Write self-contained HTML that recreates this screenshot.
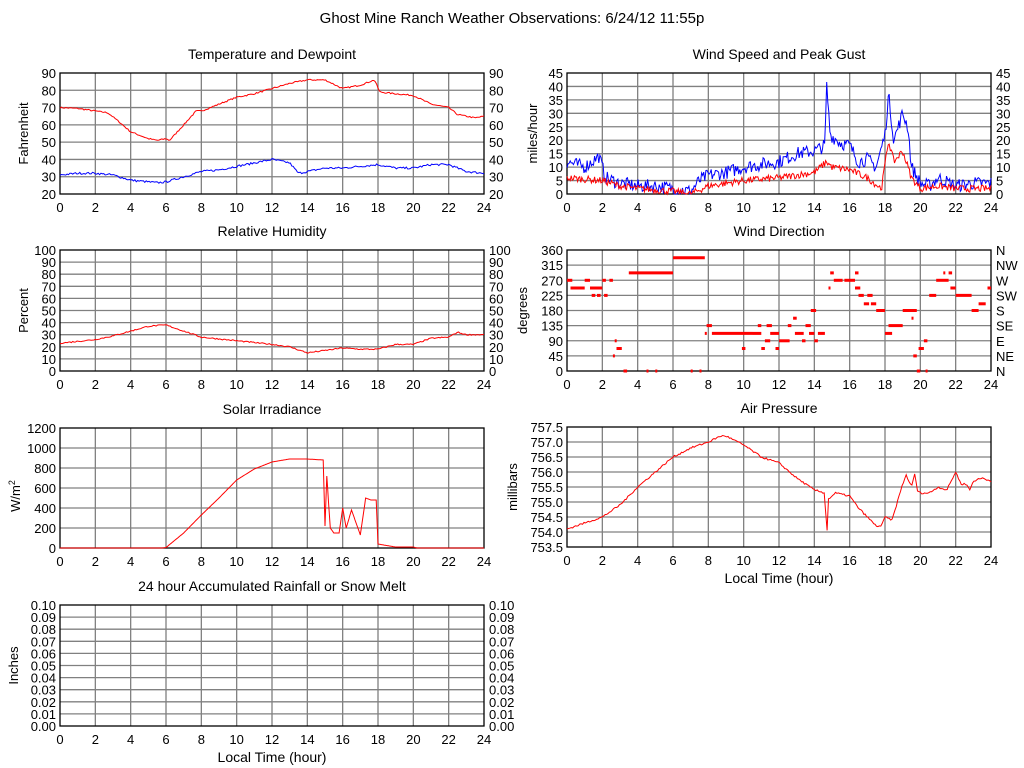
<!DOCTYPE html>
<html><head><meta charset="utf-8"><style>
html,body{margin:0;padding:0;background:#fff;}
svg{display:block;font-family:"Liberation Sans",Arial,sans-serif;}
</style></head><body>
<svg id="s" width="1024" height="768" xmlns="http://www.w3.org/2000/svg">
<text x="512" y="23" font-size="15" text-anchor="middle">Ghost Mine Ranch Weather Observations: 6/24/12 11:55p</text>
</svg>
<script>
var S=document.getElementById('s'),out='';
var seed=7;function rnd(){seed=(seed*16807)%2147483647;return seed/2147483647;}
function T(x,y,t,a,fs,extra){out+='<text x="'+x+'" y="'+y+'" font-size="'+(fs||13)+'" text-anchor="'+(a||'middle')+'" '+(extra||'')+'>'+t+'</text>';}
function panel(p){
 var x0=p.x,y0=p.y,w=424,h=p.h||121,i;
 for(i=1;i<12;i++){var gx=x0+w*i/12;out+='<line x1="'+gx+'" y1="'+y0+'" x2="'+gx+'" y2="'+(y0+h)+'" stroke="#808080" stroke-width="1.3"/>';}
 for(i=1;i<p.n;i++){var gy=y0+h*i/p.n;out+='<line x1="'+x0+'" y1="'+gy+'" x2="'+(x0+w)+'" y2="'+gy+'" stroke="#808080" stroke-width="1.3"/>';}
 out+='<rect x="'+x0+'" y="'+y0+'" width="'+w+'" height="'+h+'" fill="none" stroke="#000" stroke-width="1.3"/>';
 for(i=0;i<=12;i++)T(x0+w*i/12,y0+h+18,i*2);
 for(i=0;i<=p.n;i++){var yy=y0+h-h*i/p.n+5;
  if(p.left)T(x0-4,yy,p.left(i),'end');
  if(p.right)T(x0+w+5,yy,p.right(i),'start');}
 T(x0+w/2,y0-14,p.title,'middle',14);
 if(p.yl)T(0,0,p.yl,'middle',13,'transform="translate('+(x0-(p.yo||35))+','+(y0+h/2)+') rotate(-90)"');
 if(p.xl)T(x0+w/2,y0+h+36,'Local Time (hour)','middle',14);
}
function series(p,pts,lo,hi,col,noise,step){
 var x0=p.x,y0=p.y,w=424,h=p.h||121,s='',k=0;
 for(var t=0;t<=24.0001;t+=step){
  while(k<pts.length-2&&pts[k+1][0]<t)k++;
  var a=pts[k],b=pts[k+1],f=(t-a[0])/(b[0]-a[0]);f=Math.max(0,Math.min(1,f));
  var v=a[1]+(b[1]-a[1])*f+(rnd()-0.5)*2*noise;
  v=Math.max(lo,Math.min(hi,v));
  s+=(x0+w*t/24).toFixed(1)+','+(y0+h-h*(v-lo)/(hi-lo)).toFixed(1)+' ';}
 out+='<polyline points="'+s+'" fill="none" stroke="'+col+'" stroke-width="1"/>';
}
var P1={x:60,y:73,n:7,title:'Temperature and Dewpoint',yl:'Fahrenheit',yo:32,left:function(i){return 20+i*10},right:function(i){return 20+i*10}};
var P2={x:567,y:73,n:9,title:'Wind Speed and Peak Gust',yl:'miles/hour',yo:30,left:function(i){return i*5},right:function(i){return i*5}};
var P3={x:60,y:250,n:10,title:'Relative Humidity',yl:'Percent',yo:32,left:function(i){return i*10},right:function(i){return i*10}};
var dirs=['N','NE','E','SE','S','SW','W','NW','N'];
var P4={x:567,y:250,n:8,title:'Wind Direction',yl:'degrees',yo:40,left:function(i){return i*45},right:function(i){return dirs[i]}};
var P5={x:60,y:428,h:120,n:6,title:'Solar Irradiance',left:function(i){return i*200}};
var P6={x:567,y:427,h:120,n:8,title:'Air Pressure',yl:'millibars',yo:50,xl:1,left:function(i){return (753.5+i*0.5).toFixed(1)}};
var P7={x:60,y:605,n:10,title:'24 hour Accumulated Rainfall or Snow Melt',yl:'Inches',yo:42,xl:1,left:function(i){return (i/100).toFixed(2)},right:function(i){return (i/100).toFixed(2)}};
[P1,P2,P3,P4,P5,P6,P7].forEach(panel);
T(20,496,'W/m<tspan font-size="9" dy="-5">2</tspan>','middle',13,'transform="rotate(-90 20 496)"');
series(P1,[[0,70],[1,69.5],[2,68],[2.7,67],[3.2,63],[4,56],[5,52],[5.5,51],[6,52],[6.2,51],[7,60],[7.7,68],[8,68],[9,72],[10,76],[11,78],[12,81],[13,84],[14,86],[15,86],[16,81],[17,83],[17.8,86],[18.1,79],[19,78],[20,77],[21,72],[22,70],[22.5,66],[23.5,64],[24,65]],20,90,'#f00',0.4,0.08);
series(P1,[[0,31],[1,32],[2,32],[3,31],[4,28],[5,27],[5.5,26.5],[6,27],[7,30],[8,33],[9,34],[10,36],[11,38],[12,40],[12.5,39],[13,38],[13.5,32],[14,33],[15,35],[16,35],[17,36],[18,37],[19,35],[20,35],[21,37],[22,37],[23,33],[24,32]],20,90,'#00f',0.6,0.08);
series(P2,[[0,12],[1,10],[1.8,14],[2.2,6],[3,4],[4,3],[5,3],[6,2],[7,1],[7.5,5],[8,7],[9,8],[10,10],[11,11],[12,12],[13,15],[14,16],[14.6,18],[14.7,40],[14.9,22],[15.5,19],[16,18],[16.5,12],[17,13],[17.5,10],[18,22],[18.2,37],[18.5,20],[19,30],[19.3,25],[19.5,10],[20,4],[20.5,3],[21,6],[22,3],[23,4],[24,4]],0,45,'#00f',2.5,0.06);
series(P2,[[0,6],[2,5],[3,3],[4,2],[6,1],[7,0],[8,3],[10,5],[12,6],[13,7],[14,8],[14.7,12],[15,10],[16,9],[17,6],[17.8,2],[18.2,20],[18.5,12],[19,16],[19.5,6],[20,2],[21,3],[22,2],[24,2]],0,45,'#f00',1.3,0.06);
series(P3,[[0,23],[2,26],[3,29],[4,33],[5,37],[6,38],[7,33],[8,28],[10,25],[12,22],[13,20],[14,15],[15,17],[16,19],[17,18],[18,18],[19,22],[20,22],[21,27],[22,28],[22.5,32],[23,30],[24,30]],0,100,'#f00',0.5,0.08);
series(P5,[[0,0],[5.8,0],[6,5],[7,150],[8,330],[9,500],[10,680],[11,790],[12,860],[13,890],[14,890],[14.9,880],[15,220],[15.1,720],[15.3,200],[15.5,150],[15.8,150],[16,400],[16.2,200],[16.5,380],[17,130],[17.3,500],[17.6,480],[17.9,480],[18,40],[19,10],[20,10],[20.2,0],[24,0]],0,1200,'#f00',0,0.05);
series(P6,[[0,754.1],[1,754.3],[2,754.5],[3,754.9],[4,755.5],[5,756.0],[6,756.5],[7,756.8],[8,757.0],[8.7,757.2],[9,757.2],[10,756.9],[11,756.5],[12,756.3],[13,755.8],[14,755.4],[14.6,755.3],[14.7,753.8],[14.8,755.1],[15.2,755.3],[16,755.2],[16.5,754.8],[17,754.5],[17.5,754.2],[17.8,754.2],[18,754.5],[18.4,754.4],[19,755.6],[19.2,755.9],[19.5,755.5],[19.7,756.0],[19.8,755.4],[20,755.3],[20.5,755.3],[21,755.5],[21.5,755.4],[22,756.0],[22.3,755.6],[22.6,755.6],[22.8,755.4],[23,755.7],[23.5,755.8],[24,755.7]],753.5,757.5,'#f00',0.03,0.08);
var wd=[[0,0.3,270],[0.2,1,247],[1,1.3,270],[1.3,2,247],[1.4,1.6,225],[1.7,1.9,225],[2,2.2,270],[2.1,2.3,225],[2.4,2.6,270],[2.6,2.7,45],[2.7,2.8,90],[2.8,3.1,67],[3.2,3.4,0],[3.5,6,292],[4.5,4.6,0],[5,5.1,0],[6,7.8,337],[7,7.1,0],[7.5,7.6,0],[7.9,8.2,135],[7.8,7.9,112],[8.2,10.5,112],[9.9,10.1,67],[10.5,11,112],[10.8,11,135],[11,11.2,67],[11.2,11.5,90],[11.3,11.6,135],[11.5,12,112],[11.8,12,67],[12,12.6,90],[12.5,12.7,135],[12.8,13,157],[12.9,13.4,112],[13.3,13.5,90],[13.5,13.8,135],[13.7,14,112],[13.8,14.1,180],[14,14.2,90],[14.2,14.6,112],[14.8,14.9,247],[14.9,15.1,292],[15.1,15.6,270],[15.7,16.3,270],[16.3,16.5,292],[16.3,16.6,247],[16.5,16.8,225],[16.8,17.1,200],[17,17.3,225],[17.2,17.5,200],[17.5,18,180],[18,18.4,112],[18.2,19,135],[19,19.8,180],[19.5,19.6,157],[19.6,19.8,45],[19.8,20,0],[19.9,20.2,67],[20.2,20.4,90],[20.3,20.4,0],[20.5,20.9,225],[20.9,21.6,270],[21.3,21.4,292],[21.6,21.8,292],[21.7,22,247],[22,22.9,225],[22.9,23.3,180],[23.3,23.7,200],[23.8,24,247]];
wd.forEach(function(s){var x1=567+424*s[0]/24,x2=567+424*s[1]/24,y=371-121*s[2]/360;out+='<line x1="'+x1.toFixed(1)+'" y1="'+y.toFixed(1)+'" x2="'+Math.max(x2,x1+2).toFixed(1)+'" y2="'+y.toFixed(1)+'" stroke="#f00" stroke-width="3"/>';});
S.insertAdjacentHTML('beforeend',out);
</script>
</body></html>
